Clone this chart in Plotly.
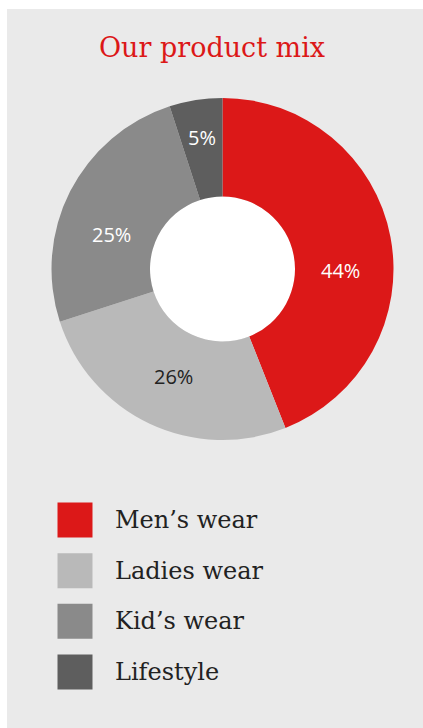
import plotly.graph_objects as go

# Product mix shares (percent)
categories = ["Men’s wear", "Ladies wear", "Kid’s wear", "Lifestyle"]
shares = [44, 26, 25, 5]
colors = ["#dc1818", "#b9b9b9", "#8a8a8a", "#5e5e5e"]
label_colors = ["#ffffff", "#222222", "#ffffff", "#ffffff"]
legend_rows = list(range(len(categories)))

W, H = 423, 728
panel_bg = "#eaeaea"

# Donut geometry (pixels)
cx, cy, r_out = 222.5, 269, 171
hole = 0.424
pie_x = [(cx - r_out) / W, (cx + r_out) / W]
pie_y = [1 - (cy + r_out) / H, 1 - (cy - r_out) / H]
r_in = r_out * hole

# Percentage label placement, offset in pixels from the donut centre
label_offsets = [(118, 1), (-49, 107), (-111, -34), (-21, -132)]

fig = go.Figure()

fig.add_trace(go.Pie(
    labels=categories,
    values=shares,
    sort=False,
    direction="clockwise",
    rotation=0,
    hole=hole,
    marker=dict(colors=colors, line=dict(width=0)),
    textinfo="none",
    domain=dict(x=pie_x, y=pie_y),
    showlegend=False,
    hoverinfo="label+percent",
))

total = sum(shares)
for share, (dx, dy), col in zip(shares, label_offsets, label_colors):
    fig.add_annotation(
        x=(cx + dx) / W, y=1 - (cy + dy) / H, xref="paper", yref="paper",
        text=f"{round(100 * share / total)}%", showarrow=False,
        xanchor="center", yanchor="middle",
        font=dict(family="Open Sans", size=20, color=col),
    )

# Legend swatches drawn as square markers, one row per category
fig.add_trace(go.Scatter(
    x=[0] * len(categories),
    y=legend_rows,
    mode="markers",
    marker=dict(symbol="square", size=35, color=colors, line=dict(width=0)),
    showlegend=False,
    hoverinfo="skip",
))

for row, name in zip(legend_rows, categories):
    fig.add_annotation(
        x=0, y=row, xref="x", yref="y",
        text=name, showarrow=False,
        xanchor="left", yanchor="middle", xshift=38,
        font=dict(family="DejaVu Serif", size=24, color="#222222"),
    )

# Gray panel and white centre of the donut
fig.add_shape(type="rect", xref="paper", yref="paper",
              x0=7 / W, x1=1, y0=0, y1=1 - 9 / H,
              fillcolor=panel_bg, line=dict(width=0), layer="below")
fig.add_shape(type="circle", xref="paper", yref="paper",
              x0=(cx - r_in) / W, x1=(cx + r_in) / W,
              y0=1 - (cy + r_in) / H, y1=1 - (cy - r_in) / H,
              fillcolor="#ffffff", line=dict(width=0), layer="below")

row_top, row_step = 520, 50.67
fig.update_layout(
    width=W, height=H,
    margin=dict(l=0, r=0, t=0, b=0),
    paper_bgcolor="#ffffff",
    plot_bgcolor="rgba(0,0,0,0)",
    title=dict(
        text="Our product mix",
        x=212 / W, xanchor="center",
        y=1 - 48 / H, yanchor="middle",
        font=dict(family="DejaVu Serif", size=27, color="#dc1818"),
    ),
    xaxis=dict(range=[-75, W - 75], domain=[0, 1], visible=False, fixedrange=True),
    yaxis=dict(
        range=[3.5, -0.5],
        domain=[1 - (row_top + 3.5 * row_step) / H, 1 - (row_top - 0.5 * row_step) / H],
        visible=False, fixedrange=True,
    ),
)

fig.write_html("out.html")
